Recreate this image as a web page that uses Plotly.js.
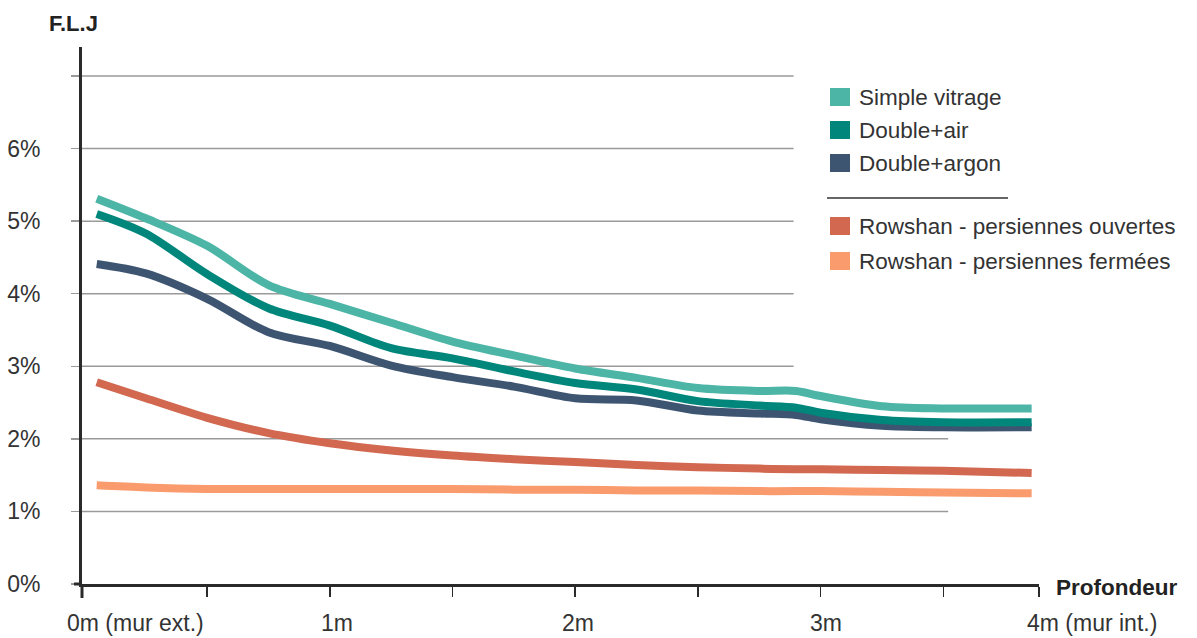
<!DOCTYPE html>
<html>
<head>
<meta charset="utf-8">
<script src="https://cdn.plot.ly/plotly-3.0.1.min.js"></script>
<style>html,body{margin:0;padding:0;background:#fff;}#chart{width:1197px;height:638px;}</style>
</head>
<body>
<div id="chart"></div>
<script>
// ---- data ----
const depth = [0.05, 0.25, 0.5, 0.75, 1.0, 1.25, 1.5, 1.75, 2.0, 2.25, 2.5, 2.75, 2.9, 3.0, 3.25, 3.5, 3.86];
const simpleVitrage = [5.31, 5.04, 4.66, 4.12, 3.86, 3.60, 3.34, 3.15, 2.97, 2.84, 2.70, 2.66, 2.66, 2.59, 2.45, 2.42, 2.42];
const doubleAir     = [5.10, 4.83, 4.27, 3.80, 3.56, 3.25, 3.11, 2.93, 2.77, 2.68, 2.52, 2.46, 2.43, 2.36, 2.26, 2.23, 2.23];
const doubleArgon   = [4.41, 4.28, 3.93, 3.47, 3.28, 3.01, 2.85, 2.72, 2.56, 2.53, 2.39, 2.35, 2.33, 2.27, 2.18, 2.16, 2.16];
const rowshanOuv    = [2.78, 2.56, 2.29, 2.08, 1.94, 1.84, 1.77, 1.72, 1.68, 1.64, 1.61, 1.59, 1.58, 1.58, 1.57, 1.56, 1.53];
const rowshanFer    = [1.36, 1.33, 1.31, 1.31, 1.31, 1.31, 1.31, 1.30, 1.30, 1.29, 1.29, 1.28, 1.28, 1.28, 1.27, 1.26, 1.25];

const seriesNames = ["Simple vitrage", "Double+air", "Double+argon", "Rowshan - persiennes ouvertes", "Rowshan - persiennes fermées"];
const seriesColors = ["#4cb5a6", "#00867b", "#3e5571", "#d1684f", "#f99b6d"];
const seriesValues = [simpleVitrage, doubleAir, doubleArgon, rowshanOuv, rowshanFer];

const yTickVals = [0, 1, 2, 3, 4, 5, 6, 7];
const yTickText = ["0%", "1%", "2%", "3%", "4%", "5%", "6%", ""];
const xTickVals = [0.5, 1, 1.5, 2, 2.5, 3, 3.5, 3.89];
const xLabels = ["0m (mur ext.)", "1m", "2m", "3m", "4m (mur int.)"];
// grid line lengths (end position along depth axis) per y level
const gridLevels = [1, 2, 3, 4, 5, 6, 7];
const gridEnds   = [3.52, 3.52, 2.89, 2.89, 2.89, 2.89, 2.89];

// ---- layout helpers (pixel -> paper) ----
const W = 1197, H = 638;
const M = {l: 82, r: 158, t: 47, b: 54};
const PW = W - M.l - M.r, PH = H - M.t - M.b;
const px = x => (x - M.l) / PW;
const py = y => (H - M.b - y) / PH;

const FONT = '"Liberation Sans", Arial, Helvetica, sans-serif';
const TXT = '#333333';
const AXC = '#2a2a2a';

// draw order: back to front
const order = [4, 3, 2, 1, 0];
const traces = order.map(i => ({
  type: 'scatter', mode: 'lines', name: seriesNames[i],
  x: depth, y: seriesValues[i],
  line: {color: seriesColors[i], width: 8, shape: 'spline', smoothing: 0.9},
  showlegend: false, hoverinfo: 'x+y+name'
}));

const shapes = [];
gridLevels.forEach((g, k) => {
  shapes.push({type: 'line', xref: 'x', yref: 'y', x0: -0.01, x1: gridEnds[k], y0: g, y1: g,
    line: {color: '#9a9a9a', width: 1.5}, layer: 'below'});
});
// axis overhangs (vertical axis runs slightly below the horizontal one, and vice versa)
shapes.push({type: 'line', xref: 'paper', yref: 'paper', x0: 0, x1: 0, y0: 0, y1: py(598),
  line: {color: AXC, width: 3}});
shapes.push({type: 'line', xref: 'paper', yref: 'paper', x0: px(74), x1: 0, y0: 0, y1: 0,
  line: {color: AXC, width: 3}});

const annotations = [];
// custom legend
const legendRows = [97, 130, 163, 226, 261];
seriesNames.forEach((n, i) => {
  shapes.push({type: 'rect', xref: 'paper', yref: 'paper',
    x0: px(830), x1: px(850), y0: py(legendRows[i] - 9), y1: py(legendRows[i] + 9),
    fillcolor: seriesColors[i], line: {width: 0}});
  annotations.push({xref: 'paper', yref: 'paper', x: px(857), y: py(legendRows[i]),
    xanchor: 'left', yanchor: 'middle', showarrow: false, text: n,
    font: {family: FONT, size: 22.5, color: TXT}});
});
shapes.push({type: 'line', xref: 'paper', yref: 'paper', x0: px(827), x1: px(1008), y0: py(198), y1: py(198),
  line: {color: '#333333', width: 1.5}});

// x labels
const xLabelPos = [[65, 'left'], [337, 'center'], [578, 'center'], [826, 'center'], [1025, 'left']];
xLabels.forEach((t, i) => {
  annotations.push({xref: 'paper', yref: 'paper', x: px(xLabelPos[i][0]), y: py(623),
    xanchor: xLabelPos[i][1], yanchor: 'middle', showarrow: false, text: t,
    font: {family: FONT, size: 23, color: TXT}});
});
// axis titles
annotations.push({xref: 'paper', yref: 'paper', x: px(73), y: py(23), xanchor: 'center', yanchor: 'middle',
  showarrow: false, text: '<b>F.L.J</b>', font: {family: FONT, size: 22, color: '#222'}});
annotations.push({xref: 'paper', yref: 'paper', x: px(1116), y: py(587), xanchor: 'center', yanchor: 'middle',
  showarrow: false, text: '<b>Profondeur</b>', font: {family: FONT, size: 22.5, color: '#222'}});

const layout = {
  width: W, height: H,
  margin: M,
  paper_bgcolor: '#ffffff', plot_bgcolor: '#ffffff',
  showlegend: false,
  font: {family: FONT, color: TXT},
  xaxis: {
    range: [-0.01, 3.89], showgrid: false, zeroline: false,
    showline: true, linecolor: AXC, linewidth: 3,
    tickmode: 'array', tickvals: xTickVals, showticklabels: false,
    ticks: 'outside', ticklen: 10, tickwidth: 1.5, tickcolor: AXC
  },
  yaxis: {
    range: [0, 7.4], showgrid: false, zeroline: false,
    showline: true, linecolor: AXC, linewidth: 3,
    tickmode: 'array', tickvals: yTickVals, ticktext: yTickText,
    ticks: 'outside', ticklen: 8, tickwidth: 1.5, tickcolor: '#9a9a9a',
    ticklabelstandoff: 26,
    tickfont: {family: FONT, size: 23, color: TXT}
  },
  shapes: shapes,
  annotations: annotations
};

Plotly.newPlot('chart', traces, layout, {displayModeBar: false, staticPlot: true});
</script>
</body>
</html>
